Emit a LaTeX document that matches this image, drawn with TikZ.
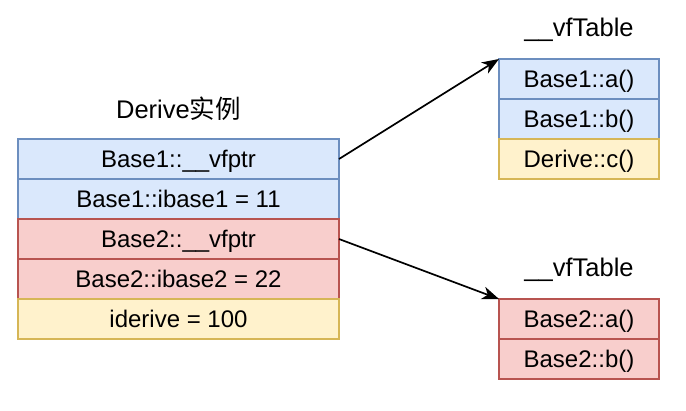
\documentclass[tikz,border=0pt]{standalone}
\usepackage{fontspec}
\setmainfont{Liberation Sans}
\newfontfamily\cjk{Noto Sans CJK SC}
\usepackage{tikz}
\usetikzlibrary{positioning,arrows.meta}
\definecolor{cazul}{HTML}{DAE8FC}
\definecolor{cazulb}{HTML}{6C8EBF}
\definecolor{crojo}{HTML}{F8CECC}
\definecolor{crojob}{HTML}{B85450}
\definecolor{camar}{HTML}{FFF2CC}
\definecolor{camarb}{HTML}{D6B656}
\tikzset{
  celda/.style={rectangle, line width=1.4pt, minimum width=321pt, minimum height=40pt,
    inner sep=0pt, outer sep=0pt, text height=20pt, text depth=3.4pt,
    font=\fontsize{24}{28}\selectfont},
  celdaz/.style={celda, draw=cazulb, fill=cazul},
  celdar/.style={celda, draw=crojob, fill=crojo},
  celdam/.style={celda, draw=camarb, fill=camar},
  vt/.style={minimum width=160pt},
  titulo/.style={inner sep=0pt, font=\fontsize{25.5}{30}\selectfont},
  flecha/.style={-{Stealth[length=17pt, width=13pt, inset=5pt]}, line width=1.7pt},
}
\begin{document}
\begin{tikzpicture}[x=1pt, y=1pt, node distance=0pt]
  \useasboundingbox (0,0) rectangle (686,-410);
  \node[celdaz] (b1vf) at (178.5,-159) {Base1::\_\_vfptr};
  \node[celdaz, below=of b1vf] (b1ib) {Base1::ibase1 = 11};
  \node[celdar, below=of b1ib] (b2vf) {Base2::\_\_vfptr};
  \node[celdar, below=of b2vf] (b2ib) {Base2::ibase2 = 22};
  \node[celdam, below=of b2ib] (ider) {iderive = 100};
  \node[titulo, above=18pt of b1vf] (tder) {Derive{\cjk 实例}};
  \node[celdaz, vt] (t1a) at (579,-79) {Base1::a()};
  \node[celdaz, vt, below=of t1a] (t1b) {Base1::b()};
  \node[celdam, vt, below=of t1b] (t1c) {Derive::c()};
  \node[titulo, above=17pt of t1a] (tvt1) {\_\_vfTable};
  \node[celdar, vt] (t2a) at (579,-319) {Base2::a()};
  \node[celdar, vt, below=of t2a] (t2b) {Base2::b()};
  \node[titulo, above=17pt of t2a] (tvt2) {\_\_vfTable};
  \draw[flecha] (b1vf.east) -- (t1a.north west);
  \draw[flecha] (b2vf.east) -- (t2a.north west);
\end{tikzpicture}
\end{document}
